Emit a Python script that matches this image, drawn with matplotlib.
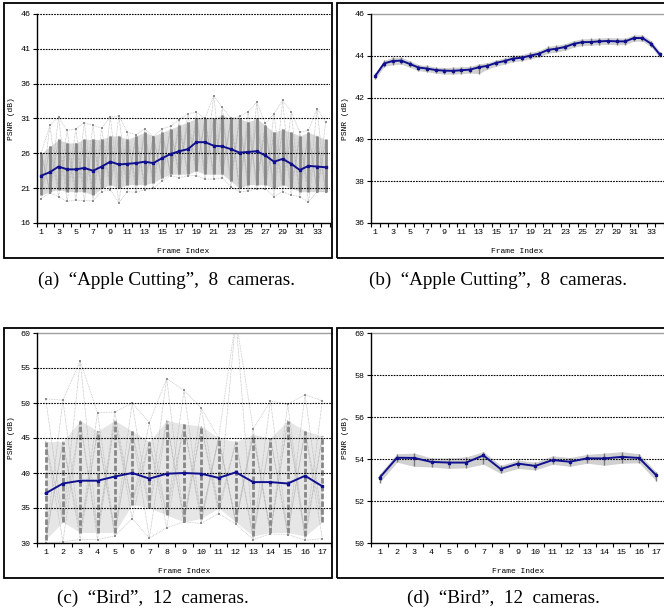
import numpy as np
import matplotlib.pyplot as plt
from matplotlib.patches import Rectangle
from matplotlib.collections import LineCollection

# (a) Apple Cutting, wide spread
frames_a = np.arange(1, 35)
a_mean = [22.8, 23.3, 24.1, 23.7, 23.7, 23.9, 23.5, 24.1, 24.8, 24.4, 24.5, 24.6, 24.8, 24.6, 25.3, 25.9, 26.3,
          26.6, 27.6, 27.6, 27.1, 27.0, 26.6, 26.1, 26.2, 26.3, 25.7, 24.8, 25.2, 24.5, 23.6, 24.2, 24.1, 24.0]
a_core_hi = [26.0, 27.0, 28.0, 27.5, 27.5, 28.0, 28.0, 28.0, 28.5, 28.5, 28.0, 28.5, 29.0, 28.5, 29.0, 29.5, 30.0,
             30.5, 31.0, 31.0, 31.0, 31.5, 31.0, 31.0, 30.5, 31.0, 30.0, 29.0, 29.5, 29.0, 28.5, 29.0, 28.5, 28.0]
a_core_lo = [20.0, 20.5, 20.8, 20.5, 20.5, 20.5, 20.0, 21.0, 21.5, 21.0, 21.5, 21.5, 21.5, 21.8, 22.5, 23.0, 23.0,
             23.0, 23.5, 23.0, 23.0, 23.0, 22.0, 21.0, 21.5, 21.5, 21.5, 21.0, 21.5, 21.0, 20.5, 20.5, 20.5, 20.5]
a_max = [26.1, 30.0, 31.2, 29.3, 29.5, 30.4, 30.0, 29.6, 31.2, 31.4, 29.0, 28.7, 29.5, 28.4, 29.5, 29.9, 30.8,
         31.7, 31.9, 31.0, 34.3, 32.6, 31.0, 31.3, 32.0, 33.3, 30.3, 31.7, 33.6, 32.0, 29.0, 29.3, 32.4, 30.5]
a_min = [19.5, 20.3, 19.8, 19.1, 19.3, 19.2, 19.2, 20.5, 20.8, 18.9, 20.5, 20.4, 20.8, 21.0, 22.0, 22.8, 22.5,
         22.8, 22.8, 22.3, 22.3, 22.5, 21.2, 20.5, 20.6, 20.9, 20.9, 19.8, 20.5, 20.0, 19.8, 19.0, 20.5, 20.5]

# (b) Apple Cutting, narrow spread
b_mean = [43.04, 43.63, 43.75, 43.77, 43.61, 43.44, 43.39, 43.32, 43.29, 43.28, 43.31, 43.34, 43.45, 43.52, 43.66,
          43.75, 43.87, 43.91, 44.01, 44.10, 44.28, 44.34, 44.42, 44.57, 44.65, 44.66, 44.69, 44.71, 44.69, 44.69,
          44.85, 44.85, 44.58, 44.07]
b_hi = [43.18, 43.78, 43.92, 43.93, 43.76, 43.58, 43.54, 43.46, 43.44, 43.45, 43.48, 43.49, 43.62, 43.67, 43.80,
        43.90, 44.02, 44.06, 44.17, 44.25, 44.45, 44.50, 44.58, 44.73, 44.81, 44.83, 44.85, 44.87, 44.86, 44.84,
        45.00, 45.00, 44.73, 44.20]
b_lo = [42.88, 43.48, 43.58, 43.60, 43.45, 43.29, 43.24, 43.17, 43.13, 43.12, 43.15, 43.18, 43.15, 43.36, 43.50,
        43.60, 43.72, 43.76, 43.86, 43.95, 44.12, 44.18, 44.26, 44.41, 44.49, 44.50, 44.53, 44.55, 44.53, 44.54,
        44.70, 44.70, 44.43, 43.92]

# (c) Bird, wide spread
frames_c = np.arange(1, 18)
c_mean = [37.1, 38.5, 38.9, 38.9, 39.5, 40.0, 39.2, 39.9, 40.0, 39.9, 39.3, 40.1, 38.7, 38.7, 38.5, 39.6, 38.1]
c_core_hi = [44.5, 44.5, 47.5, 46.0, 47.5, 46.0, 44.5, 47.5, 47.0, 46.7, 45.0, 44.5, 45.5, 45.0, 47.5, 46.0, 45.3]
c_core_lo = [30.5, 33.0, 31.5, 31.5, 31.5, 35.5, 35.0, 34.0, 33.0, 33.5, 35.0, 33.0, 31.0, 31.5, 31.5, 31.0, 33.0]
c_max = [50.6, 50.4, 56.0, 48.6, 48.7, 50.0, 47.2, 53.5, 51.8, 49.3, 45.0, 62.0, 46.3, 50.3, 49.8, 51.2, 50.3]
c_min = [30.0, 30.2, 30.5, 30.5, 31.0, 33.5, 30.7, 32.2, 33.0, 32.8, 34.2, 32.7, 30.5, 31.3, 31.2, 30.4, 30.6]

# (d) Bird, narrow spread
d_mean = [53.11, 54.06, 54.05, 53.86, 53.83, 53.83, 54.17, 53.52, 53.78, 53.67, 53.95, 53.87, 54.03, 54.03, 54.10,
          54.05, 53.22]
d_hi = [53.30, 54.25, 54.28, 54.05, 54.05, 54.10, 54.35, 53.70, 53.95, 53.85, 54.15, 54.07, 54.22, 54.28, 54.35,
        54.25, 53.38]
d_lo = [52.88, 53.85, 53.65, 53.62, 53.55, 53.58, 53.75, 53.32, 53.55, 53.48, 53.75, 53.65, 53.80, 53.70, 53.80,
        53.82, 52.95]

captions = ['(a)  \u201cApple Cutting\u201d,  8  cameras.', '(b)  \u201cApple Cutting\u201d,  8  cameras.',
            '(c)  \u201cBird\u201d,  12  cameras.', '(d)  \u201cBird\u201d,  12  cameras.']

W, H = 664, 615
MONO = 'Liberation Mono'
BLUE = '#10108f'


def mesh(ax, frames, lo, hi, mn, mx, color):
    # dotted criss-cross lines between neighbouring frames, like the per-view curves
    segs = []
    for i in range(len(frames) - 1):
        x0, x1 = frames[i], frames[i + 1]
        segs += [[(x0, lo[i]), (x1, hi[i + 1])], [(x0, hi[i]), (x1, lo[i + 1])],
                 [(x0, mx[i]), (x1, lo[i + 1])], [(x0, lo[i]), (x1, mx[i + 1])],
                 [(x0, mn[i]), (x1, hi[i + 1])], [(x0, hi[i]), (x1, mn[i + 1])]]
    ax.add_collection(LineCollection(segs, colors=color, linewidths=0.5, linestyles=(0, (1, 1)), zorder=1.3))


def panel(rect, frames, mean, lo, hi, mn, mx, ylim, step, label_every, wide, fill, col_ls='solid', top_dotted=False):
    x0, y0, x1, y1 = rect
    ax = fig.add_axes([x0 / W, 1 - y1 / H, (x1 - x0) / W, (y1 - y0) / H])
    n = len(frames)
    if wide:
        ax.fill_between(frames, lo, hi, color=fill, lw=0, zorder=1)
        mesh(ax, frames, lo, hi, mn, mx, '#b0b0b0')
        ax.plot(frames, mx, ls=(0, (1, 1)), color='#c4c4c4', lw=0.6, zorder=1.2)
        ax.plot(frames, mn, ls=(0, (1, 1)), color='#c4c4c4', lw=0.6, zorder=1.2)
        ax.scatter(frames, mx, s=3, marker='s', color='#909090', lw=0, zorder=2)
        ax.scatter(frames, mn, s=3, marker='s', color='#909090', lw=0, zorder=2)
        ax.vlines(frames, lo, hi, color='#878787', lw=2.0, linestyles=col_ls, zorder=2)
    else:
        ax.fill_between(frames, lo, hi, color=fill, lw=0, zorder=1)
        ax.vlines(frames, lo, hi, color='#7a7a7a', lw=1.0, zorder=2)
    yt = np.arange(ylim[0], ylim[1] + 0.01, step)
    for y in yt[1:-1]:
        ax.axhline(y, color='k', lw=0.8, ls=(0, (1.5, 1.0)), zorder=2.5)
    if top_dotted:
        ax.axhline(ylim[1], color='k', lw=0.8, ls=(0, (1.5, 1.0)), zorder=2.5, clip_on=False)
    else:
        ax.axhline(ylim[1], color='#a0a0a0', lw=1.0, zorder=2.5, clip_on=False)
    ax.plot(frames, mean, color=BLUE, lw=1.4, marker='s', ms=2.0, zorder=3)

    ax.set_xlim(0.5, n + 0.5)
    ax.set_ylim(ylim)
    ax.set_yticks(yt)
    ax.set_yticklabels([f'{v:g}' for v in yt], fontfamily=MONO, fontsize=6)
    ax.set_xticks(np.arange(0.5, n + 1), labels=[])
    ax.set_xticks(frames, minor=True)
    ax.set_xticklabels([str(f) if (f - 1) % label_every == 0 else '' for f in frames], minor=True,
                       fontfamily=MONO, fontsize=6)
    ax.tick_params(axis='x', which='major', length=3, width=0.8, direction='out')
    ax.tick_params(axis='x', which='minor', length=0, pad=4)
    ax.tick_params(axis='y', length=3, width=0.8, pad=1.5)
    for s in ['top', 'right']:
        ax.spines[s].set_visible(False)
    for s in ['left', 'bottom']:
        ax.spines[s].set_linewidth(1.0)
    ax.set_ylabel('PSNR (dB)', fontfamily=MONO, fontsize=5.8)
    ax.yaxis.set_label_coords(-22 / (x1 - x0), 0.5)
    ax.set_xlabel('Frame Index', fontfamily=MONO, fontsize=5.8)
    ax.xaxis.set_label_coords(0.5, -25 / (y1 - y0))
    return ax


fig = plt.figure(figsize=(W / 100, H / 100), dpi=100)

panel((37, 14, 330, 223), frames_a, a_mean, a_core_lo, a_core_hi, a_min, a_max, (16, 46), 5, 2, True,
      '#d9d9d9', top_dotted=True)
panel((371, 14, 664, 223), frames_a, b_mean, b_lo, b_hi, None, None, (36, 46), 2, 2, False, '#d0d0d0')
panel((37, 333, 331, 543), frames_c, c_mean, c_core_lo, c_core_hi, c_min, c_max, (30, 60), 5, 1, True,
      '#e6e6e6', col_ls=(0, (2, 0.8)))
panel((371, 333, 665, 543), frames_c, d_mean, d_lo, d_hi, None, None, (50, 60), 2, 1, False, '#d0d0d0')

# outer frames around each sub-figure
for (fx0, fy0, fx1, fy1) in [(4, 3, 332, 258), (337, 3, 666, 258), (4, 328, 332, 578), (337, 328, 666, 578)]:
    fig.add_artist(Rectangle((fx0 / W, 1 - fy1 / H), (fx1 - fx0) / W, (fy1 - fy0) / H,
                             transform=fig.transFigure, fill=False, ec='black', lw=1.3))

for cap, (cx, cy) in zip(captions, [(167, 280), (498, 280), (153, 598), (503, 598)]):
    fig.text(cx / W, 1 - cy / H, cap, ha='center', va='center', fontfamily='Liberation Serif', fontsize=13.8)

fig.savefig('out.png', dpi=100)
